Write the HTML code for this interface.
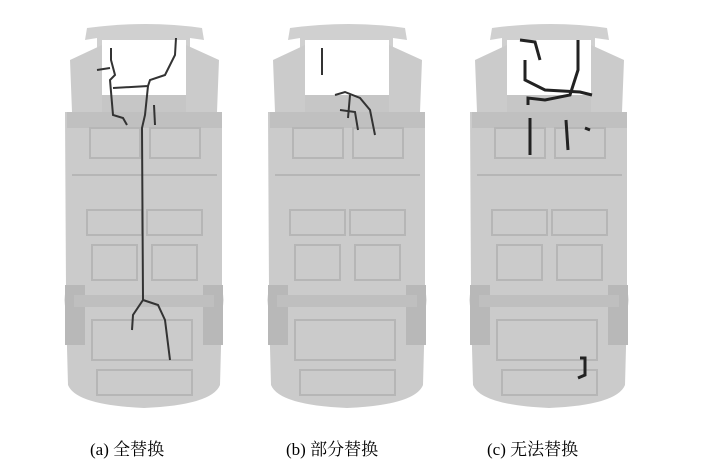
<!DOCTYPE html>
<html><head><meta charset="utf-8"><style>
body{margin:0;background:#fff;width:715px;height:468px;overflow:hidden}
svg{display:block}
text{font-family:"Liberation Serif","Noto Serif CJK SC",serif;font-size:17px;fill:#000}
</style></head><body>
<svg width="715" height="468" viewBox="0 0 715 468">
<defs>
<g id="car">
 <path d="M25 28 Q85 20 140 28 L142 40 L128 38 L128 95 L35 95 L35 38 L23 40 Z" fill="#d0d0d0"/>
 <path d="M8 60 L40 45 L40 112 L10 112 Z" fill="#cbcbcb"/>
 <path d="M157 60 L124 45 L124 112 L155 112 Z" fill="#cbcbcb"/>
 <rect x="40" y="40" width="84" height="55" fill="#fff"/>
 <path d="M40 95 L124 95 L124 112 L40 112 Z" fill="#c6c6c6"/>
 <path d="M3 112 L160 112 L160 290 Q163 300 160 310 L158 385 Q150 405 82 408 Q14 405 6 385 L4 310 Q1 300 4 290 Z" fill="#cbcbcb"/>
 <rect x="5" y="112" width="155" height="16" fill="#c0c0c0"/>
 <rect x="3" y="285" width="20" height="60" fill="#b8b8b8"/>
 <rect x="141" y="285" width="20" height="60" fill="#b8b8b8"/>
 <rect x="12" y="295" width="140" height="12" fill="#bfbfbf"/>
 <g fill="none" stroke="#b6b6b6" stroke-width="2">
  <rect x="28" y="128" width="50" height="30"/><rect x="88" y="128" width="50" height="30"/>
  <rect x="25" y="210" width="55" height="25"/><rect x="85" y="210" width="55" height="25"/>
  <rect x="30" y="245" width="45" height="35"/><rect x="90" y="245" width="45" height="35"/>
  <rect x="30" y="320" width="100" height="40"/><rect x="35" y="370" width="95" height="25"/>
  <line x1="10" y1="175" x2="155" y2="175"/>
 </g>
</g>
</defs>
<use href="#car" x="62" y="0"/>
<use href="#car" x="265" y="0"/>
<use href="#car" x="467" y="0"/>
<g fill="none" stroke="#333" stroke-width="2">
 <path d="M111 48 L111 60 L115 75 L110 80 L113 115 L123 118 L127 125"/>
 <path d="M113 88 L148 86 L150 80 L165 75 L175 55 L176 38"/>
 <path d="M148 86 L145 115 L142 128 L143 300 L133 315 L132 330"/>
 <path d="M143 300 L158 305 L165 320 L170 360"/>
 <path d="M154 105 L155 125"/>
 <path d="M97 70 L110 68"/>
</g>
<g fill="none" stroke="#333" stroke-width="2">
 <path d="M335 95 L345 92 L360 98 L370 110 L375 135"/>
 <path d="M340 110 L355 112 L358 130"/>
 <path d="M350 95 L348 118"/>
 <path d="M322 48 L322 75"/>
</g>
<g fill="none" stroke="#222" stroke-width="3">
 <path d="M520 40 L535 42 L540 60"/>
 <path d="M578 40 L578 70 L570 95 L545 100 L528 98 L528 105"/>
 <path d="M525 60 L525 80 L545 90 L580 92 L592 95"/>
 <path d="M530 118 L530 155"/>
 <path d="M566 120 L568 150"/>
 <path d="M585 128 L590 130"/>
 <path d="M580 358 L585 358 L585 375 L578 378"/>
</g>
<text x="90" y="455">(a)  全替换</text>
<text x="286" y="455">(b)  部分替换</text>
<text x="487" y="455">(c)  无法替换</text>
</svg>
</body></html>
